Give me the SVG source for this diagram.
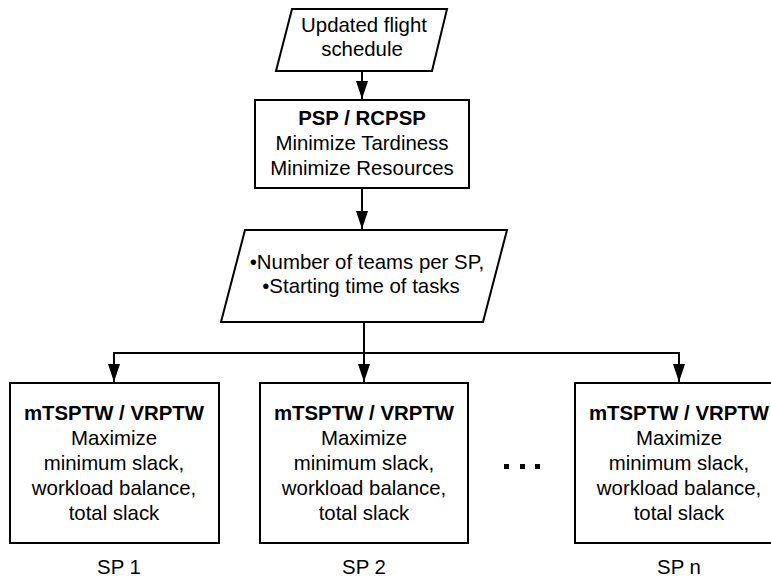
<svg xmlns="http://www.w3.org/2000/svg" width="771" height="586" viewBox="0 0 771 586">
<style>
.shape{fill:#fff;stroke:#000;stroke-width:2}
.t{font-family:"Liberation Sans",Arial,sans-serif;font-size:20.4px;fill:#000;text-anchor:middle}
.b{font-weight:bold}
.c{fill:none;stroke:#000;stroke-width:2}
</style>
<defs>
<marker id="ah" markerUnits="userSpaceOnUse" markerWidth="18" markerHeight="12" refX="18" refY="6" viewBox="0 0 18 12" orient="auto">
<polygon points="0,0 18,6 0,12" fill="#000"/>
</marker>
</defs>
<rect width="771" height="586" fill="#fff"/>
<g id="connectors">
<line class="c" x1="362" y1="71" x2="362" y2="99" marker-end="url(#ah)"/>
<line class="c" x1="362" y1="188" x2="362" y2="229" marker-end="url(#ah)"/>
<polyline class="c" points="364,323 364,353"/>
<polyline class="c" points="114,353 679,353"/>
<line class="c" x1="114" y1="352" x2="114" y2="382" marker-end="url(#ah)"/>
<line class="c" x1="364" y1="352" x2="364" y2="382" marker-end="url(#ah)"/>
<line class="c" x1="679" y1="352" x2="679" y2="382" marker-end="url(#ah)"/>
</g>
<g id="input">
<polygon class="shape" points="292,9 447,9 432,71 276,71"/>
<text class="t" x="364" y="32">Updated flight</text>
<text class="t" x="362" y="56">schedule</text>
</g>
<g id="psp">
<rect class="shape" x="255" y="100" width="214" height="88"/>
<text class="t b" x="362" y="125">PSP / RCPSP</text>
<text class="t" x="362" y="150">Minimize Tardiness</text>
<text class="t" x="362" y="175">Minimize Resources</text>
</g>
<g id="output">
<polygon class="shape" points="245,230 507,230 483,322 221,322"/>
<text class="t" x="367" y="269">•Number of teams per SP,</text>
<text class="t" x="361" y="293">•Starting time of tasks</text>
</g>
<g id="sp1">
<rect class="shape" x="10" y="383" width="209" height="160"/>
<text class="t b" x="114" y="420">mTSPTW / VRPTW</text>
<text class="t" x="114" y="445">Maximize</text>
<text class="t" x="114" y="470">minimum slack,</text>
<text class="t" x="114" y="495">workload balance,</text>
<text class="t" x="114" y="520">total slack</text>
<text class="t" x="119" y="574">SP 1</text>
</g>
<g id="sp2">
<rect class="shape" x="260" y="383" width="208" height="160"/>
<text class="t b" x="364" y="420">mTSPTW / VRPTW</text>
<text class="t" x="364" y="445">Maximize</text>
<text class="t" x="364" y="470">minimum slack,</text>
<text class="t" x="364" y="495">workload balance,</text>
<text class="t" x="364" y="520">total slack</text>
<text class="t" x="364" y="574">SP 2</text>
</g>
<g id="dots">
<rect x="504" y="464" width="5" height="5" fill="#000"/>
<rect x="520" y="464" width="5" height="5" fill="#000"/>
<rect x="535" y="464" width="5" height="5" fill="#000"/>
</g>
<g id="spn">
<rect class="shape" x="575" y="383" width="209" height="160"/>
<text class="t b" x="679" y="420">mTSPTW / VRPTW</text>
<text class="t" x="679" y="445">Maximize</text>
<text class="t" x="679" y="470">minimum slack,</text>
<text class="t" x="679" y="495">workload balance,</text>
<text class="t" x="679" y="520">total slack</text>
<text class="t" x="679" y="574">SP n</text>
</g>
</svg>
